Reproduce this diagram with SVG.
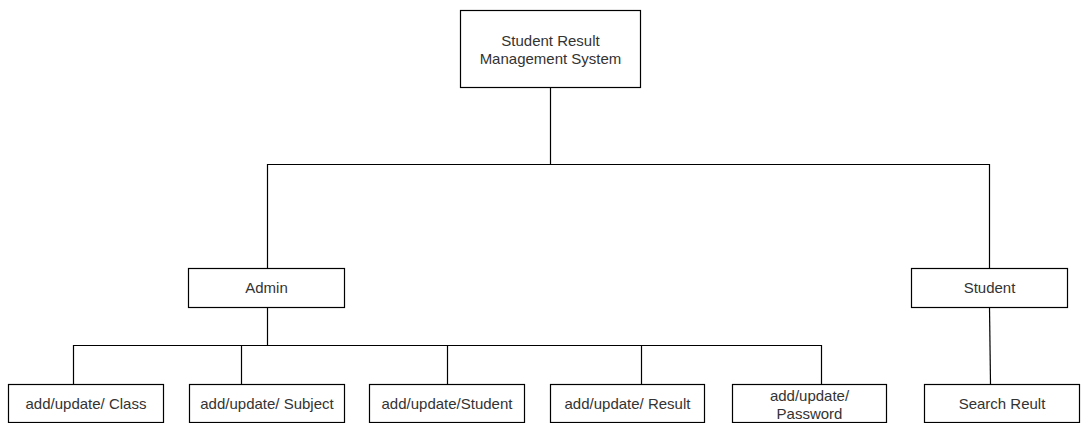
<svg xmlns="http://www.w3.org/2000/svg" width="1086" height="423" viewBox="0 0 1086 423">
  <style>
    .box { fill: #ffffff; stroke: #000000; stroke-width: 1.2; }
    .edge { fill: none; stroke: #000000; stroke-width: 1.2; }
    .lbl { font-family: "Liberation Sans", Arial, sans-serif; font-size: 15px; fill: #333333; text-anchor: middle; }
  </style>
  <rect width="1086" height="423" fill="#ffffff"/>
  <g id="connectors">
    <path class="edge" d="M550.5,87 V164.5"/>
    <path class="edge" d="M267.5,268 V164.5 H989.5 V268"/>
    <path class="edge" d="M267.5,307 V345.5"/>
    <path class="edge" d="M73.5,384 V345.5 H821.5 V384"/>
    <path class="edge" d="M241.5,345.5 V384"/>
    <path class="edge" d="M447.5,345.5 V384"/>
    <path class="edge" d="M641.5,345.5 V384"/>
    <path class="edge" d="M989.5,307 L990.5,384"/>
  </g>
  <g id="node-root">
    <rect class="box" x="460.5" y="10.5" width="180" height="77"/>
    <text class="lbl" x="550.5" y="45.5">Student Result</text>
    <text class="lbl" x="550.5" y="63.5">Management System</text>
  </g>
  <g id="node-admin">
    <rect class="box" x="188.5" y="268.5" width="156" height="39"/>
    <text class="lbl" x="266.5" y="293">Admin</text>
  </g>
  <g id="node-student">
    <rect class="box" x="911.5" y="268.5" width="156" height="39"/>
    <text class="lbl" x="989.5" y="293">Student</text>
  </g>
  <g id="node-class">
    <rect class="box" x="8.5" y="384.5" width="155" height="38"/>
    <text class="lbl" x="86" y="409">add/update/ Class</text>
  </g>
  <g id="node-subject">
    <rect class="box" x="189.5" y="384.5" width="155" height="38"/>
    <text class="lbl" x="267" y="409">add/update/ Subject</text>
  </g>
  <g id="node-studentmgmt">
    <rect class="box" x="369.5" y="384.5" width="155" height="38"/>
    <text class="lbl" x="447" y="409">add/update/Student</text>
  </g>
  <g id="node-result">
    <rect class="box" x="550.5" y="384.5" width="154" height="38"/>
    <text class="lbl" x="627.5" y="409">add/update/ Result</text>
  </g>
  <g id="node-password">
    <rect class="box" x="732.5" y="384.5" width="154" height="38"/>
    <text class="lbl" x="809.5" y="401">add/update/</text>
    <text class="lbl" x="809.5" y="418.5">Password</text>
  </g>
  <g id="node-search">
    <rect class="box" x="924.5" y="384.5" width="155" height="38"/>
    <text class="lbl" x="1002" y="409">Search Reult</text>
  </g>
</svg>
